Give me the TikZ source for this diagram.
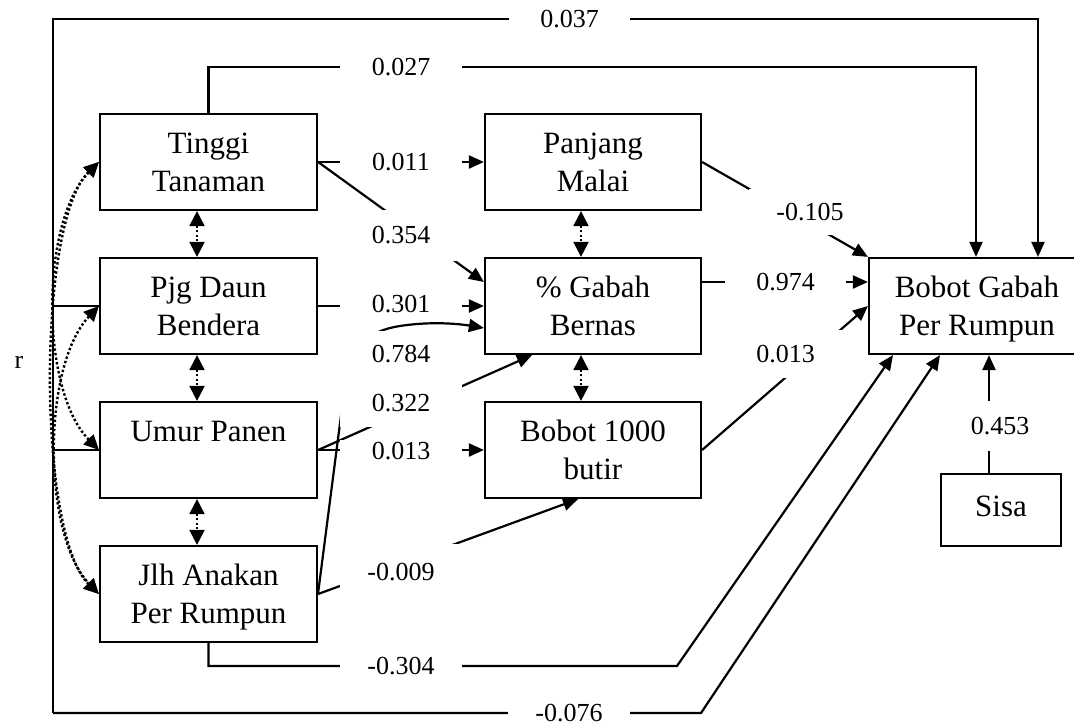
\documentclass[tikz,border=0pt]{standalone}
\usepackage{fontspec}
\setmainfont{Liberation Serif}
\usetikzlibrary{arrows.meta}
\newcommand\bxfont{\fontsize{31}{38}\selectfont}
\newcommand\lbfont{\fontsize{26}{30}\selectfont}
\begin{document}
\begin{tikzpicture}[x=1pt,y=-1pt,
  bx/.style={draw, line width=2.2pt, inner sep=0pt, minimum width=217pt, minimum height=96pt, align=center, font=\bxfont},
  lab/.style={fill=white, inner sep=0pt, minimum width=122pt, font=\lbfont},
  con/.style={line width=2.2pt},
  arr/.style={con, -{Triangle[length=15pt,width=13pt]}},
  dbl/.style={line width=2pt, dash pattern=on 2pt off 2.5pt, {Triangle[length=15pt,width=15pt]}-{Triangle[length=15pt,width=15pt]}},
  dotarc/.style={line width=2.4pt, dash pattern=on 2.4pt off 2.2pt, {Triangle[length=15pt,width=14pt]}-{Triangle[length=15pt,width=14pt]}},
]
\fill[white] (0,0) rectangle (1074,725);
\useasboundingbox (0,0) rectangle (1074,725);

% boxes
\node[bx] (tt) at (208.5,162) {Tinggi\\Tanaman};
\node[bx] (pd) at (208.5,306) {Pjg Daun\\Bendera};
\node[bx] (up) at (208.5,450) {Umur Panen\\~};
\node[bx] (ja) at (208.5,594) {Jlh Anakan\\\smash{Per Rumpun}};
\node[bx, minimum width=216pt] (pm) at (593,162) {Panjang\\Malai};
\node[bx, minimum width=216pt] (gb) at (593,306) {\%~Gabah\\Bernas};
\node[bx, minimum width=216pt] (bb) at (593,450) {Bobot 1000\\butir};
\node[bx, minimum width=216pt] (bg) at (977,306) {Bobot Gabah\\\smash{Per Rumpun}};
\node[bx, minimum width=120pt, minimum height=72pt] (sisa) at (1001,510) {Sisa\vphantom{p}};

% connectors
\draw[arr] (tt.east) -- (pm.west);
\draw[arr] (tt.east) -- ([yshift=24pt]gb.west);
\draw[arr] (pd.east) -- (gb.west);
\draw[arr] ([yshift=1pt]ja.east) -- (343,400) .. controls (350,345) and (368,331) .. (400,326) .. controls (432,321) and (460,324) .. ([yshift=-22pt]gb.west);
\draw[arr] (up.east) -- ([xshift=-61pt]gb.south);
\draw[arr] (up.east) -- (bb.west);
\draw[arr] (ja.east) -- ([xshift=-15pt]bb.south);
\draw[arr] (pm.east) -- (bg.north west);
\draw[arr] ([yshift=24pt]gb.east) -- ([yshift=24pt]bg.west);
\draw[arr] (bb.east) -- (bg.west);
\coordinate (c27) at (976,67);
\draw[arr] (tt.north) |- (c27) -- (c27 |- bg.north);
\coordinate (tl) at (53,19);
\coordinate (bl) at (53,713);
\draw[arr] (bl) -- (tl) -| ([xshift=61pt]bg.north);
\draw[con] (pd.west) -- (pd.west -| tl);
\draw[con] (up.west) -- (up.west -| tl);
\coordinate (c304) at (677,666);
\draw[arr] (ja.south) |- (c304) -- ([xshift=-84pt]bg.south);
\coordinate (c076) at (701,713);
\draw[arr] (bl) -- (c076) -- ([xshift=-37pt]bg.south);
\draw[arr] ([xshift=-12pt]sisa.north) -- ([xshift=12pt]bg.south);

% correlations
\draw[dbl] ([xshift=-11.5pt]tt.south) -- ([xshift=-11.5pt]pd.north);
\draw[dbl] ([xshift=-11.5pt]pd.south) -- ([xshift=-11.5pt]up.north);
\draw[dbl] ([xshift=-11.5pt]up.south) -- ([xshift=-11.5pt]ja.north);
\draw[dbl] ([xshift=-12pt]pm.south) -- ([xshift=-12pt]gb.north);
\draw[dbl] ([xshift=-12pt]gb.south) -- ([xshift=-12pt]bb.north);
\draw[dotarc] (tt.west) .. controls (40,222) and (40,390) .. (up.west);
\draw[dotarc] (tt.west) .. controls (37,222) and (37,534) .. (ja.west);
\draw[dotarc] (pd.west) .. controls (42,366) and (42,534) .. (ja.west);

% labels
\node[lab, minimum height=30pt, minimum width=121pt] (l037) at (569.5,19) {0.037};
\node[lab, minimum height=30pt] (l027) at (401,67) {0.027};
\node[lab, minimum height=30pt] (l011) at (401,162) {0.011};
\node[lab, minimum height=51pt] (l354) at (401,235) {0.354};
\node[lab, minimum height=36pt] (l301) at (401,304) {0.301};
\node[lab, minimum height=48pt] (l784) at (401,354.5) {0.784};
\node[lab, minimum height=48pt] (l322) at (401,403) {0.322};
\node[lab, minimum height=22pt] (l013a) at (401,451) {0.013};
\node[lab, minimum height=56pt] (l009) at (401,572) {-0.009};
\node[lab, minimum height=30pt] (l304) at (401,666) {-0.304};
\node[lab, minimum height=30pt] (l076) at (569,713) {-0.076};
\node[lab, minimum height=46pt] (l105) at (810,212) {-0.105};
\node[lab, minimum height=40pt, minimum width=121pt] (l974) at (785.5,282) {0.974};
\node[lab, minimum height=48pt, minimum width=121pt] (l013b) at (785.5,354) {0.013};
\node[lab, minimum height=50pt, minimum width=76pt] (l453) at (1000,426) {0.453};
\node[font=\lbfont, inner sep=0pt] (r) at (19,362) {r};
\end{tikzpicture}
\end{document}
